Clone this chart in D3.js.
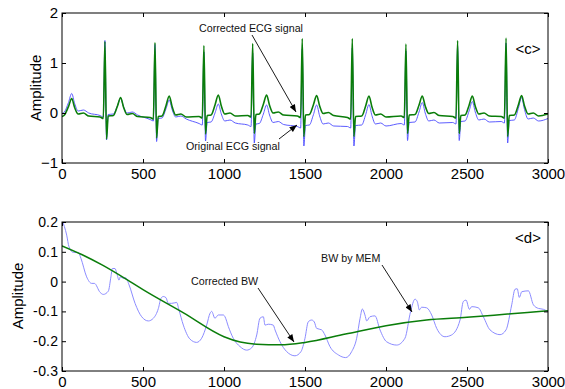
<!DOCTYPE html>
<html>
<head>
<meta charset="utf-8">
<script src="https://cdn.jsdelivr.net/npm/d3@7"></script>
<style>
  body { margin: 0; background: #fff; }
  svg { display: block; font-family: "Liberation Sans", Arial, sans-serif; }
</style>
</head>
<body>
<script>
// axis ticks
const xTicks = [0, 500, 1000, 1500, 2000, 2500, 3000];
const ecgYTicks = [-1, 0, 1, 2];
const bwYTicks = [-0.3, -0.2, -0.1, 0, 0.1, 0.2];
const bwYTickLabels = ["- 0. 3", "- 0. 2", "- 0. 1", "0", "0. 1", "0. 2"];

// panel <c>: ECG beats
const rPeakX = [265, 574, 876, 1177, 1483, 1792, 2123, 2442, 2741];
const rPeakGreen = [1.43, 1.41, 1.35, 1.39, 1.49, 1.49, 1.38, 1.45, 1.50];
const rPeakBlue = [1.45, 1.37, 1.22, 1.20, 1.28, 1.30, 1.24, 1.33, 1.40];
const sWaveGreen = [-0.52, -0.50, -0.42, -0.41, -0.47, -0.47, -0.41, -0.41, -0.47];
const sWaveBlue = [-0.54, -0.57, -0.56, -0.60, -0.66, -0.66, -0.55, -0.55, -0.60];
const tPeakX = [60, 362, 662, 965, 1263, 1572, 1895, 2224, 2533, 2837];
const tPeakGreen = [0.29, 0.31, 0.34, 0.36, 0.36, 0.35, 0.34, 0.34, 0.34, 0.35];
const tPeakBlue = [0.39, 0.30, 0.26, 0.18, 0.16, 0.16, 0.17, 0.21, 0.23, 0.31];
// baseline just before each R peak, plus the two ends
const baseGreen = [-0.08, -0.09, -0.07, -0.05, -0.06, -0.09, -0.06, -0.07, -0.07];
const baseBlue = [-0.05, -0.13, -0.21, -0.24, -0.27, -0.27, -0.21, -0.19, -0.17];
const endsGreen = [-0.07, -0.02];
const endsBlue = [-0.01, -0.11];

// panel <d>: baseline wander
const bwMem = [
  [0, 0.207], [29, 0.156], [43, 0.117], [70, 0.098], [101, 0.098], [117, 0.078], [152, 0.016],
  [183, -0.006], [200, -0.006], [235, -0.036], [255, -0.043], [286, -0.032], [302, 0.016],
  [311, 0.044], [327, 0.044], [338, 0.028], [352, 0.005], [360, 0.016], [379, 0.011],
  [393, 0.013], [414, -0.011], [451, -0.073], [492, -0.118], [533, -0.132], [564, -0.123],
  [595, -0.09], [611, -0.056], [625, -0.05], [642, -0.054], [656, -0.073], [677, -0.073],
  [708, -0.07], [722, -0.095], [749, -0.146], [790, -0.193], [831, -0.204], [862, -0.19],
  [893, -0.146], [914, -0.106], [924, -0.1], [944, -0.123], [965, -0.112], [996, -0.112],
  [1006, -0.118], [1027, -0.151], [1057, -0.19], [1099, -0.218], [1140, -0.23], [1171, -0.222],
  [1202, -0.179], [1222, -0.123], [1243, -0.118], [1253, -0.146], [1273, -0.143], [1304, -0.146],
  [1315, -0.162], [1346, -0.202], [1387, -0.235], [1438, -0.249], [1475, -0.235], [1500, -0.19],
  [1520, -0.135], [1541, -0.129], [1557, -0.135], [1572, -0.157], [1603, -0.162], [1623, -0.179],
  [1654, -0.218], [1706, -0.246], [1751, -0.255], [1788, -0.235], [1819, -0.19], [1840, -0.123],
  [1854, -0.092], [1870, -0.112], [1881, -0.132], [1901, -0.118], [1932, -0.115], [1963, -0.162],
  [2004, -0.202], [2066, -0.213], [2117, -0.19], [2152, -0.1], [2179, -0.059], [2193, -0.067],
  [2206, -0.095], [2220, -0.086], [2251, -0.088], [2282, -0.112], [2313, -0.157], [2364, -0.185],
  [2405, -0.179], [2457, -0.129], [2477, -0.067], [2494, -0.062], [2515, -0.093], [2529, -0.084],
  [2570, -0.088], [2601, -0.118], [2642, -0.162], [2704, -0.178], [2741, -0.162], [2776, -0.078],
  [2796, -0.026], [2810, -0.024], [2823, -0.053], [2838, -0.034], [2879, -0.031], [2910, -0.078],
  [2941, -0.09], [2972, -0.093], [3000, -0.101]
];
const bwCorrected = [
  [0, 0.12], [125, 0.09], [250, 0.055], [420, 0.0], [500, -0.027], [750, -0.105],
  [1000, -0.185], [1100, -0.203], [1200, -0.21], [1350, -0.212], [1500, -0.204],
  [1750, -0.176], [2000, -0.148], [2250, -0.129], [2500, -0.12], [2750, -0.109], [3000, -0.098]
];

const W = 565, H = 389;
const svg = d3.select("body").append("svg").attr("width", W).attr("height", H);

const x = d3.scaleLinear().domain([0, 3000]).range([62, 548]);
const yEcg = d3.scaleLinear().domain([-1, 2]).range([163, 13]);
const yBw = d3.scaleLinear().domain([-0.3, 0.2]).range([371, 222]);

// build the ECG trace from the beat values
function ecgTrace(rPeak, sWave, tPeak, base, ends) {
  const pts = [[0, ends[0]]];
  const addT = (k, b) => {
    const tx = tPeakX[k], tv = tPeak[k];
    if (tx - 45 > 0) pts.push([tx - 45, b + 0.03]);
    else pts.push([15, b + 0.04]);
    pts.push([tx - 20, b + 0.55 * (tv - b)]);
    pts.push([tx, tv]);
    pts.push([tx + 18, b + 0.5 * (tv - b)]);
    pts.push([tx + 40, b + 0.05]);
    pts.push([tx + 72, b + 0.07]);
    pts.push([tx + 105, b + 0.01]);
  };
  addT(0, ends[0]);
  rPeakX.forEach((rx, i) => {
    const b = base[i];
    pts.push([rx - 30, b]);
    pts.push([rx - 10, b - 0.03]);
    pts.push([rx, rPeak[i]]);
    pts.push([rx + 10, sWave[i]]);
    pts.push([rx + 20, b + 0.02]);
    addT(i + 1, b);
  });
  pts.push([3000, ends[1]]);
  return pts;
}

svg.append("defs").call(defs => {
  defs.append("clipPath").attr("id", "clipTop").append("rect")
    .attr("x", 62).attr("y", 13).attr("width", 486).attr("height", 150);
  defs.append("clipPath").attr("id", "clipBot").append("rect")
    .attr("x", 62).attr("y", 222).attr("width", 486).attr("height", 149);
  defs.append("marker").attr("id", "arrow")
    .attr("viewBox", "0 -4 10 8").attr("refX", 10).attr("refY", 0)
    .attr("markerWidth", 8).attr("markerHeight", 6)
    .attr("markerUnits", "userSpaceOnUse").attr("orient", "auto")
    .append("path").attr("d", "M0,-4L10,0L0,4Z").attr("fill", "#000");
});

function drawAxes(y, yTop, yBottom, yTicks, yFormat) {
  const g = svg.append("g");
  g.append("g").attr("transform", `translate(0,${yBottom})`)
    .call(d3.axisBottom(x).tickValues(xTicks).tickSize(-4).tickSizeOuter(0).tickPadding(5).tickFormat(d3.format("d")));
  g.append("g").attr("transform", `translate(0,${yTop})`)
    .call(d3.axisTop(x).tickValues(xTicks).tickSize(-4).tickSizeOuter(0).tickFormat(""));
  const left = g.append("g").attr("transform", "translate(62,0)")
    .call(d3.axisLeft(y).tickValues(yTicks).tickSize(-4).tickSizeOuter(0).tickPadding(4).tickFormat(yFormat));
  g.append("g").attr("transform", "translate(548,0)")
    .call(d3.axisRight(y).tickValues(yTicks).tickSize(-4).tickSizeOuter(0).tickFormat(""));
  g.selectAll("text").attr("font-size", 15).attr("fill", "#000")
    .attr("font-family", "Liberation Sans, Arial, sans-serif");
  left.selectAll("text").attr("word-spacing", "-3.5px");
  g.selectAll(".domain").remove();
  g.selectAll("line").attr("stroke", "#000");
  svg.append("rect").attr("x", 62).attr("y", yTop).attr("width", 486).attr("height", yBottom - yTop)
    .attr("fill", "none").attr("stroke", "#000").attr("stroke-width", 1);
  return left;
}

const lineEcg = d3.line().x(d => x(d[0])).y(d => yEcg(d[1])).curve(d3.curveMonotoneX);
const lineBw = d3.line().x(d => x(d[0])).y(d => yBw(d[1])).curve(d3.curveMonotoneX);

// panel <c>
const panelC = svg.append("g").attr("clip-path", "url(#clipTop)");
panelC.append("path").datum(ecgTrace(rPeakBlue, sWaveBlue, tPeakBlue, baseBlue, endsBlue))
  .attr("d", lineEcg).attr("fill", "none").attr("stroke", "#4b4bff").attr("stroke-width", 0.9);
panelC.append("path").datum(ecgTrace(rPeakGreen, sWaveGreen, tPeakGreen, baseGreen, endsGreen))
  .attr("d", lineEcg).attr("fill", "none").attr("stroke", "#0a7d0a").attr("stroke-width", 1.6);
drawAxes(yEcg, 13, 163, ecgYTicks, d3.format("d"));

// panel <d>
const panelD = svg.append("g").attr("clip-path", "url(#clipBot)");
panelD.append("path").datum(bwMem).attr("d", lineBw)
  .attr("fill", "none").attr("stroke", "#8c8cff").attr("stroke-width", 1);
panelD.append("path").datum(bwCorrected).attr("d", lineBw)
  .attr("fill", "none").attr("stroke", "#0a7d0a").attr("stroke-width", 1.5);
drawAxes(yBw, 222, 371, bwYTicks, (d, i) => bwYTickLabels[i])
  .selectAll("text").attr("font-size", 14);

// y labels
svg.append("text").attr("transform", "translate(41,88) rotate(-90)")
  .attr("text-anchor", "middle").attr("font-size", 15).text("Amplitude");
svg.append("text").attr("transform", "translate(23,296) rotate(-90)")
  .attr("text-anchor", "middle").attr("font-size", 15).text("Amplitude");

// panel tags
svg.append("text").attr("x", 528).attr("y", 54).attr("text-anchor", "middle")
  .attr("font-size", 15).text("<c>");
svg.append("text").attr("x", 528).attr("y", 243).attr("text-anchor", "middle")
  .attr("font-size", 15).text("<d>");

// annotations
const notes = [
  { text: "Corrected ECG signal", tx: 199, ty: 32, from: [252, 35], to: [296, 112] },
  { text: "Original ECG signal", tx: 186, ty: 150, from: [279, 139], to: [297, 125] },
  { text: "Corrected BW", tx: 191, ty: 285, from: [258, 288], to: [294, 342] },
  { text: "BW by MEM", tx: 321, ty: 262, from: [382, 265], to: [412, 312] }
];
notes.forEach(n => {
  svg.append("text").attr("x", n.tx).attr("y", n.ty).attr("font-size", 10.7)
    .attr("fill", "#111").text(n.text);
  svg.append("line").attr("x1", n.from[0]).attr("y1", n.from[1])
    .attr("x2", n.to[0]).attr("y2", n.to[1])
    .attr("stroke", "#000").attr("stroke-width", 0.9).attr("marker-end", "url(#arrow)");
});
</script>
</body>
</html>
